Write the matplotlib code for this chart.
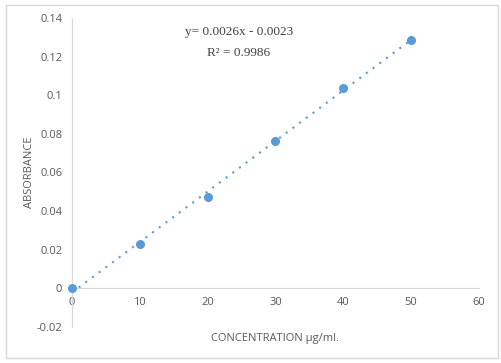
import numpy as np
import matplotlib
matplotlib.use("Agg")
import matplotlib.pyplot as plt
from matplotlib.patches import Rectangle

concentration = [0, 10, 20, 30, 40, 50]
absorbance = [0.0, 0.023, 0.0474, 0.0764, 0.104, 0.1288]
x_ticks = [0, 10, 20, 30, 40, 50, 60]
y_ticks = [-0.02, 0, 0.02, 0.04, 0.06, 0.08, 0.1, 0.12, 0.14]
y_tick_labels = ["-0.02", "0", "0.02", "0.04", "0.06", "0.08", "0.1", "0.12", "0.14"]
equation = "y= 0.0026x - 0.0023"
r2_text = "R² = 0.9986"

blue = "#5B9BD5"
grey_txt = "#595959"
grey_line = "#D9D9D9"

fig = plt.figure(figsize=(5.02, 3.63), dpi=100)
fig.patch.set_facecolor("white")
fig.add_artist(Rectangle((6/502, 1-358/363), 492/502, 353/363, transform=fig.transFigure,
                         fill=False, edgecolor=grey_line, linewidth=1))

ax = fig.add_axes([72/502, 1-327/363, (479-72)/502, (327-18)/363])
ax.set_xlim(0, 60)
ax.set_ylim(-0.02, 0.14)

# trendline
coef = np.polyfit(concentration, absorbance, 1)
xs = np.array([concentration[0], concentration[-1]])
ax.plot(xs, np.polyval(coef, xs), linestyle=(0, (1, 3)), color=blue, linewidth=1.5, zorder=2)
ax.plot(concentration, absorbance, "o", color=blue, markersize=5.5, zorder=3, clip_on=False)

for s in ["top", "right"]:
    ax.spines[s].set_visible(False)
ax.spines["bottom"].set_position(("data", 0))
ax.spines["bottom"].set_color(grey_line)
ax.spines["left"].set_color(grey_line)
ax.tick_params(length=0, colors=grey_txt, labelsize=8)
ax.set_xticks(x_ticks)
ax.set_yticks(y_ticks)
ax.set_yticklabels(y_tick_labels)
for lab in ax.get_xticklabels() + ax.get_yticklabels():
    lab.set_family("Open Sans")
ax.tick_params(axis="y", pad=7)
ax.tick_params(axis="x", pad=6)

fig.text(239/502, 1-32/363, equation, ha="center", va="center", fontsize=9.5,
         family="Liberation Serif", color="#404040")
fig.text(239/502, 1-53/363, r2_text, ha="center", va="center", fontsize=9.5,
         family="Liberation Serif", color="#404040")
fig.text(30/502, 1-172/363, "ABSORBANCE", rotation=90, ha="center", va="center",
         fontsize=8, family="Open Sans", color=grey_txt)
fig.text(275/502, 1-338/363, "CONCENTRATION µg/ml.", ha="center", va="center",
         fontsize=8, family="Open Sans", color=grey_txt)

fig.savefig("out.png", dpi=100, facecolor="white")
